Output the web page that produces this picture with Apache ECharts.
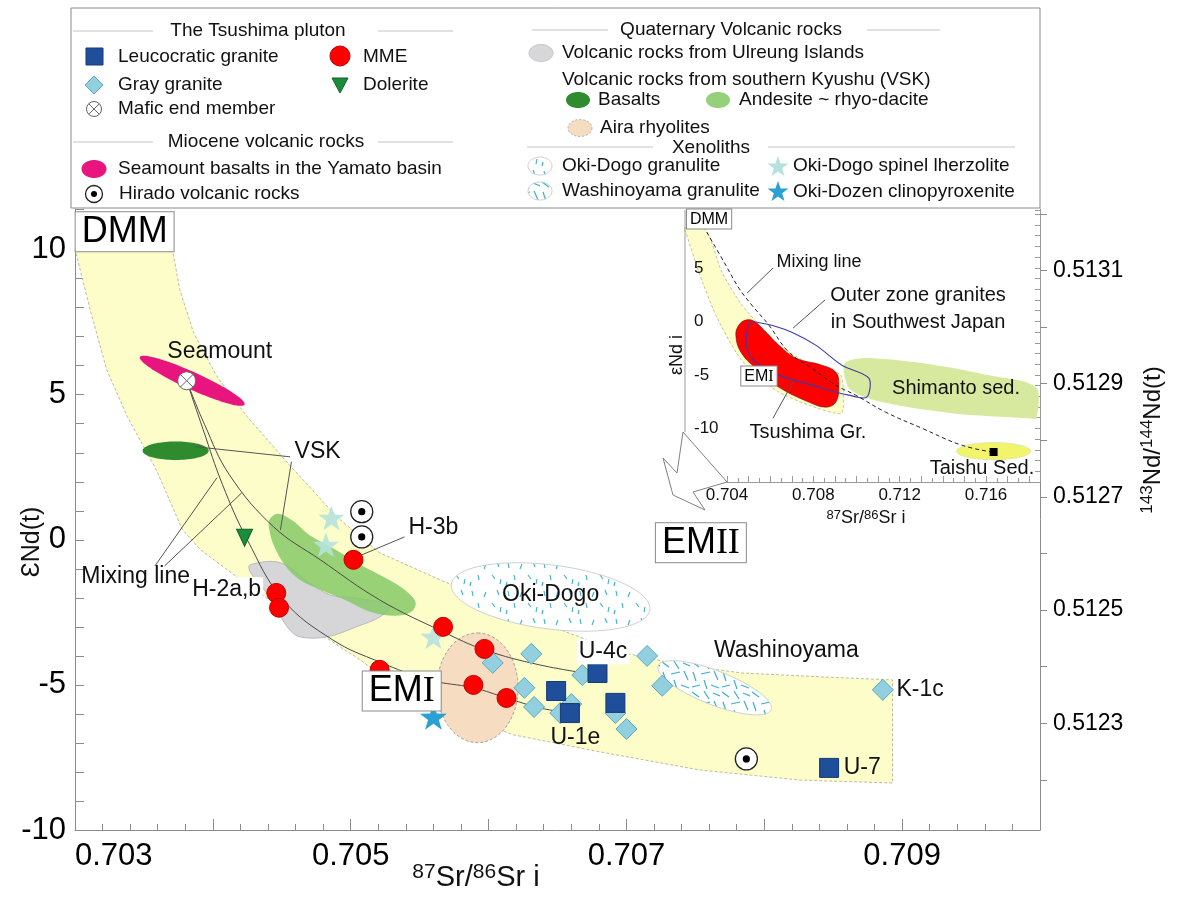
<!DOCTYPE html>
<html>
<head>
<meta charset="utf-8">
<script src="https://cdn.jsdelivr.net/npm/echarts/dist/echarts.min.js"></script>
<style>
html,body{margin:0;padding:0;background:#fff;}
#chart{width:1179px;height:903px;}
</style>
</head>
<body>
<div id="chart"></div>
<script>
// ================= DATA (87Sr/86Sr i , εNd(t)) =================
// Tsushima pluton samples
const leucoGranite = [[0.70679,-4.59],[0.70649,-5.21],[0.70659,-5.97],[0.70692,-5.62],[0.70847,-7.86]];
const grayGranite = [[0.70603,-4.24],[0.70631,-3.93],[0.70626,-5.10],[0.70633,-5.76],[0.70652,-5.97],[0.70660,-5.66],[0.70668,-4.66],[0.70692,-5.97],[0.70700,-6.52],[0.70715,-4.00],[0.70726,-5.03],[0.70886,-5.17]];
const mme = [[0.70502,-0.69],[0.70446,-1.83],[0.70448,-2.34],[0.70567,-3.00],[0.70597,-3.76],[0.70589,-5.00],[0.70613,-5.45],[0.70521,-4.48]];
const dolerite = [[0.70423,0.07]];
const maficEnd = [[0.70381,5.48]];
const hirado = [[0.70508,0.97],[0.70508,0.10],[0.70787,-7.55]];
const spinelLherzolite = [[0.70486,0.76],[0.70482,-0.17],[0.70560,-3.34]];
const clinopyroxenite = [[0.70560,-6.10]];

// Mantle array band (upper edge then lower edge)
const bandUpper = [[0.70300,10.0],[0.70371,9.93],[0.70376,8.62],[0.70386,7.14],[0.70403,5.62],[0.70425,4.24],[0.70454,2.66],[0.70490,0.79],[0.70521,-0.45],[0.70565,-1.38],[0.70608,-2.24],[0.70652,-3.10],[0.70695,-3.86],[0.70739,-4.31],[0.70784,-4.59],[0.70840,-4.72],[0.70893,-4.83]];
const bandLower = [[0.70893,-8.38],[0.70826,-8.28],[0.70753,-7.93],[0.70681,-7.31],[0.70618,-6.72],[0.70572,-5.93],[0.70536,-5.17],[0.70507,-4.14],[0.70470,-3.00],[0.70427,-1.62],[0.70391,-0.34],[0.70378,0.34],[0.70359,2.41],[0.70338,4.24],[0.70323,5.86],[0.70311,7.93],[0.70301,9.83]];

// Fields
const vskAndesite = [[0.70441,0.69],[0.70447,0.90],[0.70457,0.69],[0.70470,0.17],[0.70489,-0.34],[0.70507,-0.86],[0.70525,-1.31],[0.70539,-1.72],[0.70547,-2.14],[0.70544,-2.48],[0.70532,-2.62],[0.70514,-2.48],[0.70496,-2.07],[0.70478,-1.72],[0.70463,-1.38],[0.70452,-0.86],[0.70444,-0.17],[0.70441,0.34]];
const ulreung = [[0.70427,-0.86],[0.70449,-0.79],[0.70470,-1.48],[0.70485,-1.90],[0.70502,-2.00],[0.70523,-2.17],[0.70528,-2.34],[0.70521,-2.66],[0.70504,-3.00],[0.70483,-3.34],[0.70463,-3.34],[0.70454,-3.00],[0.70439,-1.83],[0.70427,-1.10]];
// ellipses: [centerSr, centerNd, majorEndSr, majorEndNd, minor/major ratio]
const seamountField = [0.70385,5.48,0.70423,4.66,0.15];
const vskBasalt = [0.70373,3.07,0.70397,3.07,0.28];
const airaRhyolite = [0.70592,-5.10,0.70592,-3.21,0.74];
const okiDogoField = [0.70645,-1.97,0.70717,-2.41,0.32];
const washinoyamaField = [0.70764,-5.10,0.70805,-5.86,0.28];

// Mixing lines from the mafic end member
const mixUpper = [[0.70381,5.48],[0.70394,3.97],[0.70412,2.24],[0.70444,0.45],[0.70478,-0.69],[0.70521,-2.07],[0.70567,-3.17],[0.70597,-3.79],[0.70637,-4.31],[0.70679,-4.66]];
const mixLower = [[0.70381,5.48],[0.70393,3.79],[0.70407,1.90],[0.70425,0.00],[0.70451,-2.07],[0.70487,-3.45],[0.70521,-4.21],[0.70557,-4.83],[0.70589,-5.10],[0.70613,-5.45],[0.70637,-5.79],[0.70659,-5.97]];

// Annotations (main)
const mainLabelText = ['Seamount','VSK','Mixing line','H-3b','H-2a,b','U-4c','U-1e','U-7','K-1c','Oki-Dogo','Washinoyama'];
const mainLabelPos = [[0.70405,6.48],[0.70476,3.03],[0.70344,-1.28],[0.70560,0.41],[0.70410,-1.72],[0.70683,-3.86],[0.70663,-6.83],[0.70871,-7.86],[0.70913,-5.17],[0.70645,-1.90],[0.70816,-3.83]];
const mainLeaders = [[0.70358,-0.90,0.70403,2.14],[0.70365,-0.90,0.70421,1.62],[0.70456,2.86,0.70387,3.21],[0.70457,2.69,0.70449,0.34],[0.70508,-0.52,0.70539,0.10]];
const endMemberText = ['DMM','EMI','EMII'];
const endMemberPos = [[0.70336,10.62],[0.70537,-5.21],[0.70754,-0.10]];

// ================= INSET DATA =================
const insetBandUpper = [[0.70200,8.72],[0.70302,8.53],[0.70376,4.61],[0.70469,1.52],[0.70580,-1.00],[0.70640,-2.22],[0.70793,-4.09],[0.70927,-5.02]];
const insetBandLower = [[0.70931,-8.57],[0.70779,-7.82],[0.70640,-6.61],[0.70515,-4.74],[0.70441,-2.87],[0.70348,0.59],[0.70269,4.61],[0.70209,8.34]];
const insetTsushima = [[0.70487,0.12],[0.70524,0.03],[0.70580,-1.00],[0.70640,-2.22],[0.70719,-3.43],[0.70839,-4.09],[0.70904,-4.74],[0.70918,-5.96],[0.70904,-7.54],[0.70858,-8.01],[0.70779,-7.54],[0.70640,-6.14],[0.70533,-4.37],[0.70464,-2.87],[0.70441,-1.28],[0.70455,-0.35]];
const insetOuterZone = [[0.70510,-0.07],[0.70561,-0.17],[0.70607,-0.36],[0.70700,-1.01],[0.70811,-2.22],[0.70932,-4.09],[0.71057,-5.30],[0.71047,-7.08],[0.70964,-6.89],[0.70825,-6.14],[0.70640,-5.02],[0.70533,-3.81],[0.70492,-2.50],[0.70492,-1.00]];
const insetShimanto = [[0.70950,-3.81],[0.71057,-3.43],[0.71367,-4.09],[0.71612,-5.02],[0.71830,-6.14],[0.71834,-9.04],[0.71797,-9.04],[0.71441,-8.57],[0.71117,-7.54],[0.70973,-6.42],[0.70941,-4.74]];
const insetTaishuField = [0.71635,-12.12,0.71807,-12.12,0.23];
const insetTaishuPoint = [[0.71635,-12.20]];
const insetMixing = [[0.70306,8.34],[0.70394,5.26],[0.70455,3.11],[0.70515,1.52],[0.70594,-0.35],[0.70686,-2.87],[0.70793,-4.37],[0.70904,-5.96],[0.70996,-6.89],[0.71135,-8.48],[0.71302,-9.97],[0.71487,-11.56],[0.71635,-12.22]];
const insetLabelText = ['Mixing line','Outer zone granites','in Southwest Japan','Tsushima Gr.','Shimanto sed.','Taishu Sed.'];
const insetLabelPos = [[0.70826,5.54],[0.71285,2.46],[0.71285,-0.07],[0.70775,-10.35],[0.71461,-6.24],[0.71581,-13.71]];
const insetLeaders = [[0.70493,2.64,0.70613,4.98],[0.70854,2.00,0.70706,-0.63],[0.70613,-9.04,0.70706,-5.67]];
const insetBoxText = ['DMM','EMI'];
const insetBoxPos = [[0.70317,9.56],[0.70548,-5.11]];

// Axis settings / tick ranges
const mainX = {min:0.703, max:0.710, interval:0.001};
const mainY = {min:-10, max:11.4, interval:1};
const CHUR = 0.512624;                 // 143Nd/144Nd of CHUR at t (right axis conversion)
const ndTickRange = [0.5122, 0.5132];  // 143Nd/144Nd tick span on right axis
const insetX = {min:0.704, max:0.7185, interval:0.001};
const insetY = {min:-15, max:10.4};
const insetYLabels = [-10, -5, 0, 5];

// ================= LAYOUT =================
const MAIN = {left:75, top:209, width:965, height:621};
function epsToPx(e){ return MAIN.top + (mainY.max - e) / (mainY.max - mainY.min) * MAIN.height; }
const ndTop = epsToPx((ndTickRange[1] / CHUR - 1) * 1e4);
const ndBottom = epsToPx((ndTickRange[0] / CHUR - 1) * 1e4);

// ================= HELPERS =================
const FONT = '"Liberation Sans", Arial, Helvetica, sans-serif';
const SERIF = '"Liberation Serif", "Times New Roman", serif';
function ax(inset){ return inset ? {xAxisIndex:1, yAxisIndex:2} : {xAxisIndex:0, yAxisIndex:0}; }
function ellipsePts(cx, cy, a, b, th){
  const out = [];
  for (let i = 0; i < 90; i++) {
    const t = i / 90 * 2 * Math.PI, x = a * Math.cos(t), y = b * Math.sin(t);
    out.push([cx + x * Math.cos(th) - y * Math.sin(th), cy + x * Math.sin(th) + y * Math.cos(th)]);
  }
  return out;
}
function starPts(cx, cy, R){
  const out = [], r = R * 0.4;
  for (let i = 0; i < 10; i++) {
    const ang = -Math.PI / 2 + i * Math.PI / 5, rr = i % 2 ? r : R;
    out.push([cx + rr * Math.cos(ang), cy + rr * Math.sin(ang)]);
  }
  return out;
}
function makePattern(w, h, dashes, lw){
  const cv = document.createElement('canvas'); cv.width = w; cv.height = h;
  const g = cv.getContext('2d'); g.fillStyle = '#fff'; g.fillRect(0, 0, w, h);
  g.strokeStyle = '#3AAFCF'; g.lineWidth = lw; g.lineCap = 'butt';
  dashes.forEach(d => { g.beginPath(); g.moveTo(d[0], d[1]); g.lineTo(d[2], d[3]); g.stroke(); });
  return {image: cv, repeat: 'repeat'};
}
const okiPattern = makePattern(36, 28, [[4,3,5,8],[18,4,16,9],[29,2,31,7],[10,15,11,20],[24,15,27,19],[33,19,32,24],[3,22,2,26]], 1.1);
const washiPattern = makePattern(30, 30, [[2,2,9,7],[14,1,19,9],[23,3,30,6],[3,12,6,21],[11,14,20,12],[24,11,28,20],[2,27,10,25],[14,20,17,29],[21,25,29,28]], 1.2);

function polygonSeries(pts, style, z, inset, smooth){
  return Object.assign({type:'custom', coordinateSystem:'cartesian2d', silent:true, z:z, data:[pts[0]],
    renderItem: (params, api) => ({type:'polygon', shape:{points: pts.map(p => api.coord(p)), smooth: smooth || 0}, style: style})
  }, ax(inset));
}
function ellipseSeries(e, style, z, inset){
  return Object.assign({type:'custom', coordinateSystem:'cartesian2d', silent:true, z:z, data:[[e[0], e[1]]],
    renderItem: (params, api) => {
      const c = api.coord([e[0], e[1]]), m = api.coord([e[2], e[3]]);
      const a = Math.hypot(m[0]-c[0], m[1]-c[1]), th = Math.atan2(m[1]-c[1], m[0]-c[0]);
      return {type:'polygon', shape:{points: ellipsePts(c[0], c[1], a, a * e[4], th)}, style: style};
    }
  }, ax(inset));
}
function curveSeries(pts, style, z, inset, smooth){
  return Object.assign({type:'custom', coordinateSystem:'cartesian2d', silent:true, z:z, data:[pts[0]],
    renderItem: (params, api) => ({type:'polyline', shape:{points: pts.map(p => api.coord(p)), smooth: smooth || 0}, style: Object.assign({fill:null}, style)})
  }, ax(inset));
}
function segmentSeries(segs, style, z, inset){
  return Object.assign({type:'custom', coordinateSystem:'cartesian2d', silent:true, z:z, data:segs,
    renderItem: (params, api) => {
      const a = api.coord([api.value(0), api.value(1)]), b = api.coord([api.value(2), api.value(3)]);
      return {type:'line', shape:{x1:a[0], y1:a[1], x2:b[0], y2:b[1]}, style: style};
    }
  }, ax(inset));
}
function labelSeries(pos, texts, size, z, inset, bgList, sizeOverride){
  return Object.assign({type:'custom', coordinateSystem:'cartesian2d', silent:true, z:z, data:pos,
    renderItem: (params, api) => {
      const c = api.coord([api.value(0), api.value(1)]);
      const t = texts[params.dataIndex];
      const bg = bgList && bgList.indexOf(t) >= 0;
      const fs = (sizeOverride && sizeOverride[t]) || size;
      const st = {text:t, fontSize:fs, fontFamily:FONT, fill:'#111', align:'center', verticalAlign:'middle', textAlign:'center', textVerticalAlign:'middle'};
      if (bg) { st.backgroundColor = '#fff'; st.padding = [1, 2]; }
      return {type:'text', x:c[0], y:c[1], style:st};
    }
  }, ax(inset));
}
function boxSeries(pos, texts, size, z, inset){
  return Object.assign({type:'custom', coordinateSystem:'cartesian2d', silent:true, z:z, data:pos,
    renderItem: (params, api) => {
      const c = api.coord([api.value(0), api.value(1)]);
      const t = texts[params.dataIndex];
      let txt;
      if (t === 'DMM') txt = '{a|DMM}';
      else { const m = t.match(/^(EM)(I+)$/); txt = '{a|' + m[1] + '}{b|' + m[2] + '}'; }
      return {type:'text', x:c[0], y:c[1], style:{text:txt,
        rich:{a:{fontSize:size, fontFamily:FONT, fill:'#000', lineHeight:size + 2}, b:{fontSize:size, fontFamily:SERIF, fill:'#000', lineHeight:size + 2}},
        align:'center', verticalAlign:'middle', textAlign:'center', textVerticalAlign:'middle',
        backgroundColor:'#fff', borderColor:'#8a8a8a', borderWidth:1, padding:[1, Math.round(size * 0.18), 0, Math.round(size * 0.18)]}};
    }
  }, ax(inset));
}
const STAR = 'path://M12,0 L14.82,8.12 L23.41,8.29 L16.57,13.48 L19.05,21.71 L12,16.8 L4.95,21.71 L7.43,13.48 L0.59,8.29 L9.18,8.12 Z';

// ================= GRAPHIC (legend, axis titles, frame) =================
const G = [];
function T(x, y, t, size, align, extra){
  G.push(Object.assign({type:'text', x:x, y:y, z:60, silent:true, style:{text:t, fontSize:size || 19, fontFamily:FONT, fill:'#111',
    align:align || 'left', verticalAlign:'middle', textAlign:align || 'left', textVerticalAlign:'middle'}}, extra || {}));
}
function L(x1, y1, x2, y2, c, w){ G.push({type:'line', z:60, silent:true, shape:{x1:x1, y1:y1, x2:x2, y2:y2}, style:{stroke:c || '#c4c4c4', lineWidth:w || 1}}); }
function PG(pts, style){ G.push({type:'polygon', z:60, silent:true, shape:{points:pts}, style:style}); }
function CI(cx, cy, r, style){ G.push({type:'circle', z:60, silent:true, shape:{cx:cx, cy:cy, r:r}, style:style}); }

G.push({type:'rect', z:55, silent:true, shape:{x:71, y:8, width:969, height:200}, style:{fill:'#fff', stroke:'#8a8a8a', lineWidth:1}});
L(73,31,153,31); T(258,31,'The Tsushima pluton',19,'center'); L(378,31,453,31);
L(73,142,153,142); T(266,142,'Miocene volcanic rocks',19,'center'); L(378,142,453,142);
L(532,30,608,30); T(731,30,'Quaternary Volcanic rocks',19,'center'); L(867,30,940,30);
L(527,147,653,147); T(711,148,'Xenoliths',19,'center'); L(768,147,1015,147);

G.push({type:'rect', z:60, silent:true, shape:{x:86, y:48, width:17, height:17}, style:{fill:'#1F4E9A', stroke:'#163a75'}});
T(118,57,'Leucocratic granite');
CI(340,56,10,{fill:'#ff0000', stroke:'#c00000'}); T(363,57,'MME');
PG([[94,76],[103,85],[94,94],[85,85]], {fill:'#92D0E0', stroke:'#5BA9C2'}); T(118,85,'Gray granite');
PG([[332,78],[348,78],[340,93]], {fill:'#1B8C3A', stroke:'#106028'}); T(363,85,'Dolerite');
CI(94,109,7.5,{fill:'#fff', stroke:'#666'}); L(88.7,103.7,99.3,114.3,'#666'); L(99.3,103.7,88.7,114.3,'#666'); T(118,109,'Mafic end member');
PG(ellipsePts(94,169,12.5,9,0), {fill:'#E8157F'}); T(118,169,'Seamount basalts in the Yamato basin');
CI(94,194,8.5,{fill:'#fff', stroke:'#222', lineWidth:1.3}); CI(94,194,3,{fill:'#000'}); T(119,194,'Hirado volcanic rocks');

PG(ellipsePts(541,53,12,8.5,0), {fill:'#D7D7DA', stroke:'#c4c4c8'}); T(562,53,'Volcanic rocks from Ulreung Islands');
T(562,80,'Volcanic rocks from southern Kyushu (VSK)');
PG(ellipsePts(578,100,12,8,0), {fill:'#2E8B2E'}); T(598,100,'Basalts');
PG(ellipsePts(718,100,12,8,0), {fill:'#97D07A'}); T(739,100,'Andesite ~ rhyo-dacite');
PG(ellipsePts(580,128,12,8.5,0), {fill:'#F6DDC2', stroke:'#aaa', lineDash:[2,2]}); T(600,128,'Aira rhyolites');
PG(ellipsePts(540,166,12,9,0), {fill:okiPattern, stroke:'#ccc'}); T(562,166,'Oki-Dogo granulite');
PG(ellipsePts(540,191,12,9,0), {fill:washiPattern, stroke:'#ccc'}); T(562,191,'Washinoyama granulite');
PG(starPts(778,167,11), {fill:'#B6E2DE'}); T(793,166,'Oki-Dogo spinel lherzolite');
PG(starPts(778,192,11), {fill:'#2AA1D2'}); T(793,192,'Oki-Dozen clinopyroxenite');

// axis titles
T(32,542,'ƐNd(t)',25,'center',{rotation:Math.PI/2});
G.push({type:'text', x:476, y:877, z:60, silent:true, style:{text:'{s|87}{n|Sr/}{s|86}{n|Sr i}', align:'center', verticalAlign:'middle', textAlign:'center', textVerticalAlign:'middle',
  rich:{s:{fontSize:21, fontFamily:FONT, fill:'#111', lineHeight:21, verticalAlign:'top', padding:[0,0,14,0]}, n:{fontSize:29, fontFamily:FONT, fill:'#111', lineHeight:31, verticalAlign:'bottom'}}}});
G.push({type:'text', x:1152, y:440, z:60, silent:true, rotation:Math.PI/2, style:{text:'{s|143}{n|Nd/}{s|144}{n|Nd(t)}', align:'center', verticalAlign:'middle', textAlign:'center', textVerticalAlign:'middle',
  rich:{s:{fontSize:17, fontFamily:FONT, fill:'#111', lineHeight:17, verticalAlign:'top', padding:[0,0,13,0]}, n:{fontSize:24, fontFamily:FONT, fill:'#111', lineHeight:26, verticalAlign:'bottom'}}}});
// inset titles and frame
T(677,355,'εNd i',18,'center',{rotation:Math.PI/2});
G.push({type:'text', x:866, y:518, z:60, silent:true, style:{text:'{s|87}{n|Sr/}{s|86}{n|Sr i}', align:'center', verticalAlign:'middle', textAlign:'center', textVerticalAlign:'middle',
  rich:{s:{fontSize:13, fontFamily:FONT, fill:'#111', lineHeight:13, verticalAlign:'top', padding:[0,0,9,0]}, n:{fontSize:18, fontFamily:FONT, fill:'#111', lineHeight:19, verticalAlign:'bottom'}}}});
L(685,210,685,432,'#9a9a9a');
G.push({type:'polyline', z:60, silent:true, shape:{points:[[683,432],[727,482],[693,492],[705,510],[673,495],[663,458],[677,473],[683,432]]}, style:{stroke:'#808080', lineWidth:1, fill:null}});

// ================= AXES =================
const axisGray = '#8c8c8c';
function oddThousandth(v){ const n = Math.round(v * 1000); return (Math.abs(v * 1000 - n) < 1e-3 && n % 2 === 1) ? v.toFixed(3) : ''; }
function everyFourThousandth(v){ const n = Math.round(v * 1000); return (Math.abs(v * 1000 - n) < 1e-3 && n % 4 === 0) ? v.toFixed(3) : ''; }
function multipleOf5(v){ const n = Math.round(v); return (Math.abs(v - n) < 1e-6 && n % 5 === 0) ? String(n) : ''; }
function oddNd(v){ const n = Math.round(v * 1e4); return (Math.abs(v * 1e4 - n) < 1e-2 && n % 2 === 1) ? v.toFixed(4) : ''; }
function insetYLabel(v){ const n = Math.round(v); return (Math.abs(v - n) < 1e-6 && insetYLabels.indexOf(n) >= 0) ? String(n) : ''; }

const option = {
  animation:false,
  backgroundColor:'#fff',
  grid:[
    {left:MAIN.left, top:MAIN.top, width:MAIN.width, height:MAIN.height, containLabel:false, outerBoundsMode:'none'},
    {left:727, top:210, width:313, height:272, containLabel:false, outerBoundsMode:'none'},
    {left:MAIN.left, top:ndTop, width:MAIN.width, height:ndBottom - ndTop, containLabel:false, outerBoundsMode:'none'}
  ],
  xAxis:[
    {gridIndex:0, type:'value', min:mainX.min, max:mainX.max, interval:mainX.interval,
      axisLine:{show:true, onZero:false, lineStyle:{color:axisGray}},
      axisTick:{show:true, inside:true, length:11, lineStyle:{color:axisGray}},
      minorTick:{show:true, splitNumber:5, length:6, lineStyle:{color:axisGray}},
      splitLine:{show:false}, minorSplitLine:{show:false},
      axisLabel:{formatter:oddThousandth, fontSize:31, fontFamily:FONT, color:'#000', margin:11, alignMinLabel:'left', hideOverlap:false}},
    {gridIndex:1, type:'value', min:insetX.min, max:insetX.max, interval:insetX.interval,
      axisLine:{show:true, onZero:false, lineStyle:{color:'#9a9a9a'}},
      axisTick:{show:true, inside:true, length:6, lineStyle:{color:'#9a9a9a'}},
      minorTick:{show:true, splitNumber:2, length:4, lineStyle:{color:'#9a9a9a'}},
      splitLine:{show:false},
      axisLabel:{formatter:everyFourThousandth, fontSize:17, fontFamily:FONT, color:'#111', margin:5, hideOverlap:false}},
    {gridIndex:2, type:'value', show:false, min:mainX.min, max:mainX.max}
  ],
  yAxis:[
    {gridIndex:0, type:'value', min:mainY.min, max:mainY.max, interval:mainY.interval,
      axisLine:{show:true, onZero:false, lineStyle:{color:axisGray}},
      axisTick:{show:true, inside:true, length:9, lineStyle:{color:axisGray}},
      splitLine:{show:false},
      axisLabel:{formatter:multipleOf5, fontSize:31, fontFamily:FONT, color:'#000', margin:9, hideOverlap:false}},
    {gridIndex:0, type:'value', position:'right', min:mainY.min, max:mainY.max,
      axisLine:{show:true, onZero:false, lineStyle:{color:axisGray}},
      axisTick:{show:false}, splitLine:{show:false}, axisLabel:{show:false}},
    {gridIndex:1, type:'value', min:insetY.min, max:insetY.max, interval:5, z:10,
      axisLine:{show:false}, axisTick:{show:false}, splitLine:{show:false},
      axisLabel:{formatter:insetYLabel, fontSize:17, fontFamily:FONT, color:'#111', margin:33, align:'left', hideOverlap:false}},
    {gridIndex:1, type:'value', position:'right', min:insetY.min, max:insetY.max, interval:1,
      axisLine:{show:true, onZero:false, lineStyle:{color:'#9a9a9a'}},
      axisTick:{show:true, inside:true, length:5, lineStyle:{color:'#9a9a9a'}},
      splitLine:{show:false}, axisLabel:{show:false}},
    {gridIndex:2, type:'value', position:'right', min:ndTickRange[0], max:ndTickRange[1], interval:0.0001,
      axisLine:{show:false},
      axisTick:{show:true, inside:false, length:7, lineStyle:{color:axisGray}},
      splitLine:{show:false},
      axisLabel:{formatter:oddNd, fontSize:23, fontFamily:FONT, color:'#000', margin:13, hideOverlap:false}}
  ],
  graphic:{elements:G},
  series:[
    // ---- main fields ----
    polygonSeries(bandUpper.concat(bandLower), {fill:'#FDFDC9', stroke:'#bdbca0', lineWidth:1, lineDash:[3,2]}, 1, 0, 0),
    ellipseSeries(seamountField, {fill:'#E8157F'}, 2, 0),
    ellipseSeries(vskBasalt, {fill:'#2E8B2E'}, 2, 0),
    polygonSeries(ulreung, {fill:'#D6D6D9', stroke:'#b9b9bd', lineWidth:1}, 2, 0, 0.35),
    polygonSeries(vskAndesite, {fill:'rgba(130,200,100,0.82)'}, 2, 0, 0.35),
    ellipseSeries(airaRhyolite, {fill:'#F6DDC2', stroke:'#a0a0a0', lineWidth:1, lineDash:[3,2]}, 2, 0),
    ellipseSeries(okiDogoField, {fill:okiPattern, stroke:'#d0d0d0', lineWidth:1}, 2, 0),
    ellipseSeries(washinoyamaField, {fill:washiPattern, stroke:'#d0d0d0', lineWidth:1}, 2, 0),
    // ---- lines ----
    curveSeries(mixUpper, {stroke:'#4a4a4a', lineWidth:1}, 3, 0, 0.4),
    curveSeries(mixLower, {stroke:'#4a4a4a', lineWidth:1}, 3, 0, 0.4),
    segmentSeries(mainLeaders, {stroke:'#555', lineWidth:1}, 3, 0),
    // ---- samples ----
    {type:'scatter', name:'Oki-Dogo spinel lherzolite', data:spinelLherzolite, symbol:STAR, symbolKeepAspect:true, symbolSize:26, itemStyle:{color:'#B6E2DE', opacity:0.9}, z:4, silent:true, xAxisIndex:0, yAxisIndex:0},
    {type:'scatter', name:'Oki-Dozen clinopyroxenite', data:clinopyroxenite, symbol:STAR, symbolKeepAspect:true, symbolSize:27, itemStyle:{color:'#2AA1D2', opacity:1}, z:4, silent:true, xAxisIndex:0, yAxisIndex:0},
    {type:'scatter', name:'Gray granite', data:grayGranite, symbol:'diamond', symbolSize:21, itemStyle:{color:'#92D0E0', borderColor:'#5BA9C2', borderWidth:1, opacity:1}, z:5, silent:true, xAxisIndex:0, yAxisIndex:0},
    {type:'scatter', name:'Leucocratic granite', data:leucoGranite, symbol:'rect', symbolSize:19, itemStyle:{color:'#1F4E9A', borderColor:'#163a75', borderWidth:1, opacity:1}, z:5, silent:true, xAxisIndex:0, yAxisIndex:0},
    {type:'scatter', name:'MME', data:mme, symbol:'circle', symbolSize:19, itemStyle:{color:'#FF0000', borderColor:'#c00000', borderWidth:1, opacity:1}, z:6, silent:true, xAxisIndex:0, yAxisIndex:0},
    {type:'scatter', name:'Dolerite', data:dolerite, symbol:'triangle', symbolRotate:180, symbolSize:[16,17], itemStyle:{color:'#1B8C3A', borderColor:'#106028', borderWidth:1, opacity:1}, z:6, silent:true, xAxisIndex:0, yAxisIndex:0},
    Object.assign({type:'custom', coordinateSystem:'cartesian2d', silent:true, z:6, data:hirado,
      renderItem:(params, api) => { const c = api.coord([api.value(0), api.value(1)]);
        return {type:'group', children:[{type:'circle', shape:{cx:c[0], cy:c[1], r:11}, style:{fill:'#fff', stroke:'#222', lineWidth:1.3}},
          {type:'circle', shape:{cx:c[0], cy:c[1], r:3.6}, style:{fill:'#000'}}]}; }}, ax(0)),
    Object.assign({type:'custom', coordinateSystem:'cartesian2d', silent:true, z:6, data:maficEnd,
      renderItem:(params, api) => { const c = api.coord([api.value(0), api.value(1)]), r = 9, d = r * 0.707;
        return {type:'group', children:[{type:'circle', shape:{cx:c[0], cy:c[1], r:r}, style:{fill:'#fff', stroke:'#666', lineWidth:1}},
          {type:'line', shape:{x1:c[0]-d, y1:c[1]-d, x2:c[0]+d, y2:c[1]+d}, style:{stroke:'#666', lineWidth:1}},
          {type:'line', shape:{x1:c[0]+d, y1:c[1]-d, x2:c[0]-d, y2:c[1]+d}, style:{stroke:'#666', lineWidth:1}}]}; }}, ax(0)),
    // ---- main labels ----
    labelSeries(mainLabelPos, mainLabelText, 23, 8, 0, ['H-2a,b','U-4c']),
    boxSeries(endMemberPos, endMemberText, 36, 9, 0),
    // ---- inset ----
    polygonSeries(insetBandUpper.concat(insetBandLower), {fill:'#FDFDC9', stroke:'#c8c49a', lineWidth:1, lineDash:[3,2]}, 1, 1, 0.2),
    polygonSeries(insetShimanto, {fill:'#D6E99F'}, 2, 1, 0.3),
    ellipseSeries(insetTaishuField, {fill:'#F2F46A', stroke:'#dfe8b0', lineWidth:1}, 2, 1),
    polygonSeries(insetTsushima, {fill:'#FF0000', stroke:'#7a0000', lineWidth:0.6}, 2, 1, 0.4),
    polygonSeries(insetOuterZone, {fill:null, stroke:'#3b3ba8', lineWidth:1.1}, 3, 1, 0.3),
    curveSeries(insetMixing, {stroke:'#222', lineWidth:1, lineDash:[4,3]}, 3, 1, 0.4),
    segmentSeries(insetLeaders, {stroke:'#555', lineWidth:1}, 3, 1),
    {type:'scatter', data:insetTaishuPoint, symbol:'rect', symbolSize:8, itemStyle:{color:'#000', opacity:1}, z:5, silent:true, xAxisIndex:1, yAxisIndex:2},
    labelSeries(insetLabelPos, insetLabelText, 20, 8, 1, [], {'Mixing line':18}),
    boxSeries(insetBoxPos, insetBoxText, 16, 9, 1)
  ]
};

const chart = echarts.init(document.getElementById('chart'), null, {renderer:'canvas'});
chart.setOption(option);
</script>
</body>
</html>
